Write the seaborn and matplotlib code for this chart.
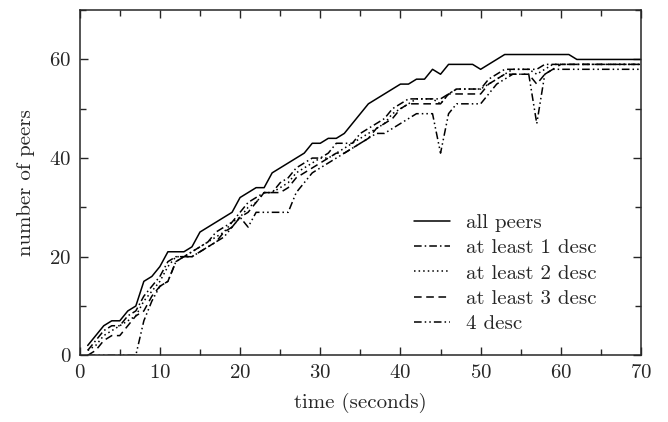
import matplotlib
matplotlib.use("Agg")
import matplotlib.pyplot as plt
from matplotlib.ticker import MultipleLocator
import pandas as pd
import seaborn as sns

# time in seconds, one sample per second
time_s = list(range(1, 71))

all_peers = [2, 4, 6, 7, 7, 9, 10, 15, 16, 18,
             21, 21, 21, 22, 25, 26, 27, 28, 29, 32,
             33, 34, 34, 37, 38, 39, 40, 41, 43, 43,
             44, 44, 45, 47, 49, 51, 52, 53, 54, 55,
             55, 56, 56, 58, 57, 59, 59, 59, 59, 58,
             59, 60, 61, 61, 61, 61, 61, 61, 61, 61,
             61, 60, 60, 60, 60, 60, 60, 60, 60, 60]
at_least_1 = [1, 3, 5, 6, 6, 8, 9, 12, 14, 16,
              19, 20, 20, 21, 22, 23, 25, 26, 27, 29,
              31, 32, 33, 33, 35, 36, 38, 39, 40, 40,
              41, 43, 43, 43, 45, 46, 47, 48, 50, 51,
              52, 52, 52, 52, 52, 53, 54, 54, 54, 54,
              56, 57, 58, 58, 58, 58, 58, 59, 59, 59,
              59, 59, 59, 59, 59, 59, 59, 59, 59, 59]
at_least_2 = [1, 2, 4, 5, 6, 7, 8, 11, 13, 15,
              18, 20, 20, 21, 22, 23, 24, 25, 27, 28,
              30, 31, 33, 33, 34, 35, 37, 38, 39, 40,
              40, 41, 42, 43, 44, 45, 46, 47, 49, 50,
              51, 52, 52, 52, 51, 53, 54, 54, 54, 54,
              55, 56, 57, 58, 58, 58, 57, 58, 59, 59,
              59, 59, 59, 59, 59, 59, 59, 59, 59, 59]
at_least_3 = [0, 1, 3, 4, 4, 6, 8, 9, 12, 14,
              15, 19, 20, 20, 21, 22, 23, 25, 26, 28,
              29, 31, 33, 33, 33, 34, 36, 37, 38, 39,
              40, 41, 41, 42, 43, 44, 46, 47, 48, 50,
              51, 51, 51, 51, 51, 53, 53, 53, 53, 53,
              55, 56, 57, 57, 57, 57, 55, 57, 58, 59,
              59, 59, 59, 59, 59, 59, 59, 59, 59, 59]
four_desc = [0, 0, 0, 0, 0, 0, 0, 7, 11, 14,
             15, 19, 20, 20, 21, 22, 23, 24, 26, 28,
             26, 29, 29, 29, 29, 29, 33, 35, 37, 38,
             39, 40, 41, 42, 43, 44, 45, 45, 46, 47,
             48, 49, 49, 49, 41, 49, 51, 51, 51, 51,
             53, 55, 56, 57, 57, 57, 47, 57, 58, 58,
             58, 58, 58, 58, 58, 58, 58, 58, 58, 58]

labels = ["all peers", "at least 1 desc", "at least 2 desc",
          "at least 3 desc", "4 desc"]
series = [all_peers, at_least_1, at_least_2, at_least_3, four_desc]
dashes = ["-", (0, (5, 2, 1, 2)), (0, (1, 2)), (0, (5, 3)),
          (0, (5, 2, 1, 2, 1, 2))]

sns.set_style("ticks")
plt.rcParams["font.family"] = ["cmr10", "DejaVu Serif"]
plt.rcParams["axes.formatter.use_mathtext"] = True

fig = plt.figure(figsize=(6.68, 4.22), dpi=100)
ax = fig.add_axes([0.1193, 0.158, 0.8403, 0.818])

for name, vals, ls in zip(labels, series, dashes):
    df = pd.DataFrame({"time": time_s, "peers": vals})
    sns.lineplot(data=df, x="time", y="peers", ax=ax, color="black",
                 linewidth=1.1, linestyle=ls, label=name)

ax.set_xlim(0, 70)
ax.set_ylim(0, 70)
ax.xaxis.set_major_locator(MultipleLocator(10))
ax.xaxis.set_minor_locator(MultipleLocator(5))
ax.yaxis.set_major_locator(MultipleLocator(20))
ax.yaxis.set_minor_locator(MultipleLocator(10))
ax.tick_params(which="both", direction="in", top=True, right=True,
               labelsize=15, pad=6)
ax.tick_params(which="major", length=6, width=1)
ax.tick_params(which="minor", length=4, width=1)
for sp in ax.spines.values():
    sp.set_linewidth(1.1)

ax.set_xlabel("time (seconds)", fontsize=15, labelpad=8)
ax.set_ylabel("number of peers", fontsize=15, labelpad=10)

ax.legend(loc="lower right", bbox_to_anchor=(0.955, 0.01), frameon=False,
          fontsize=15, handlelength=1.7, labelspacing=0.32,
          handletextpad=0.8)

fig.savefig("out.png", dpi=100)
